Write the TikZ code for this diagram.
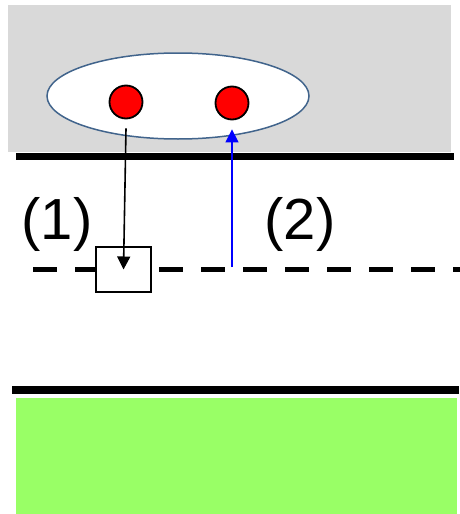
\documentclass[tikz,border=0pt]{standalone}
\usepackage{fontspec}
\setmainfont{Liberation Sans}
\usetikzlibrary{arrows.meta,positioning,shapes.geometric}
\definecolor{cellgray}{RGB}{217,217,217}
\definecolor{celledge}{RGB}{65,100,140}
\definecolor{bathgreen}{RGB}{153,255,102}

\begin{document}
\begin{tikzpicture}[x=1pt,y=-1pt,wall/.style={line width=7pt},dot/.style={circle,draw,line width=1.8pt,fill=red,minimum size=33pt,inner sep=0pt},lab/.style={font=\fontsize{58}{60}\selectfont,inner sep=0pt},arr/.style={-{Triangle[width=13pt,length=13pt]},line width=1.6pt}]
\useasboundingbox (0,0) rectangle (460,514);
\fill[cellgray] (8,5) rectangle (451,152);
\fill[bathgreen] (16,398) rectangle (457,514);
\draw[wall] (16,156) -- (454,156);
\draw[wall,line width=8pt] (12,390) -- (459,390);
\node[ellipse,draw=celledge,line width=1.5pt,fill=white,minimum width=262pt,minimum height=86pt,inner sep=0pt] (cell) at (178,96) {};
\node[dot] (dotA) at (126,102) {};
\node[dot] (dotB) at (232,103) {};
\draw[line width=5pt,dash pattern=on 24pt off 18pt] (33,269) -- (460,269);
\node[draw,line width=1.5pt,fill=white,minimum width=55pt,minimum height=45pt,inner sep=0pt] (gate) at (123.5,269.5) {};
\coordinate (pore) at (232,267);
\node[lab] (one) at (57,224) {(1)};
\node[lab] (two) at (300,224) {(2)};
\draw[arr] (dotA.south) ++(0,9) -- (gate.center);
\draw[arr,blue,line width=1.4pt,shorten >=9pt] (pore) -- (dotB.south);
\end{tikzpicture}
\end{document}
